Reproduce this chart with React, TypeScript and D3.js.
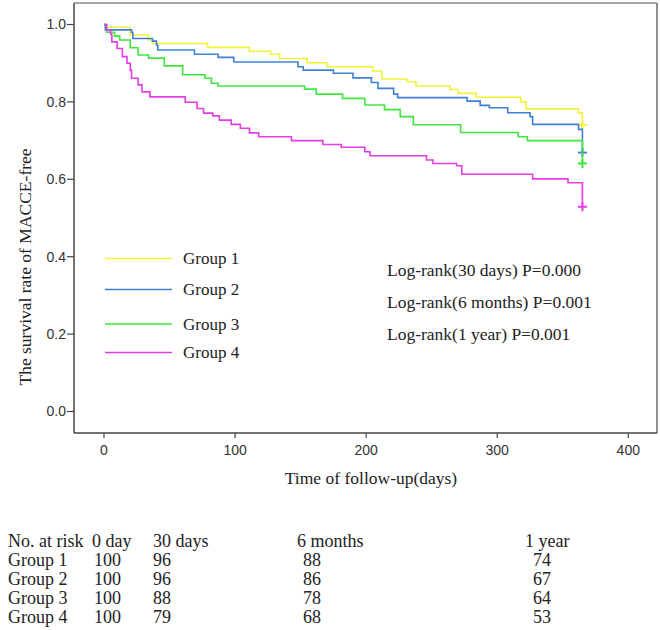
import React from "react";
import * as d3 from "d3";

const groupNames = ["Group 1", "Group 2", "Group 3", "Group 4"];
const groupColors = ["#f2f23a", "#3f80d6", "#3ee63e", "#e63ce6"];

// [time (days), survival]
const group1: [number, number][] = [
  [0, 1], [1, 0.993], [20, 0.973], [34, 0.96], [37, 0.951], [79, 0.941], [111, 0.931],
  [127, 0.923], [134, 0.912], [155, 0.901], [170, 0.891], [205, 0.88], [212, 0.859],
  [231, 0.852], [238, 0.841], [264, 0.832], [270, 0.822], [284, 0.812], [318, 0.80],
  [322, 0.782], [362, 0.771], [365, 0.74],
];
const group2: [number, number][] = [
  [0, 1], [1, 0.986], [21, 0.98], [22, 0.964], [37, 0.957], [40, 0.947], [41, 0.934],
  [69, 0.923], [87, 0.915], [99, 0.903], [148, 0.891], [152, 0.882], [175, 0.874],
  [190, 0.862], [204, 0.85], [209, 0.835], [221, 0.82], [224, 0.811], [277, 0.802],
  [287, 0.791], [294, 0.785], [308, 0.772], [325, 0.762], [327, 0.742], [362, 0.729],
  [365, 0.669],
];
const group3: [number, number][] = [
  [0, 1], [2, 0.98], [8, 0.97], [12, 0.96], [20, 0.94], [26, 0.921], [34, 0.913],
  [46, 0.893], [60, 0.87], [77, 0.861], [82, 0.848], [87, 0.841], [153, 0.833],
  [162, 0.82], [182, 0.809], [199, 0.792], [214, 0.78], [226, 0.762], [236, 0.741],
  [272, 0.721], [316, 0.71], [323, 0.70], [365, 0.641],
];
const group4: [number, number][] = [
  [0, 1], [2, 0.985], [5, 0.975], [6, 0.955], [10, 0.938], [14, 0.917], [17.5, 0.90],
  [20, 0.882], [21, 0.861], [26, 0.844], [29, 0.826], [35, 0.813], [62, 0.799],
  [71, 0.783], [76, 0.771], [83, 0.764], [88, 0.753], [97, 0.742], [104, 0.732],
  [111, 0.72], [118, 0.71], [143, 0.70], [167, 0.69], [181, 0.683], [199, 0.671],
  [203, 0.661], [246, 0.65], [251, 0.641], [269, 0.635], [273, 0.613], [327, 0.601],
  [354, 0.591], [365, 0.529],
];
const groupData = [group1, group2, group3, group4];

const xTicks = [0, 100, 200, 300, 400];
const yTicks = [0, 0.2, 0.4, 0.6, 0.8, 1.0];

const logRankTexts = [
  "Log-rank(30 days) P=0.000",
  "Log-rank(6 months) P=0.001",
  "Log-rank(1 year) P=0.001",
];

const riskHeaders = ["No. at risk", "0 day", "30 days", "6 months", "1 year"];
const riskGroup1 = [100, 96, 88, 74];
const riskGroup2 = [100, 96, 86, 67];
const riskGroup3 = [100, 88, 78, 64];
const riskGroup4 = [100, 79, 68, 53];
const riskRows = [riskGroup1, riskGroup2, riskGroup3, riskGroup4];

const W = 660;
const H = 630;
const frame = { left: 74, right: 657, top: 3, bottom: 433 };

export default function App() {
  const x = d3.scaleLinear().domain([0, 400]).range([104, 628.3]);
  const y = d3.scaleLinear().domain([0, 1]).range([411.5, 24.5]);
  const line = d3
    .line<[number, number]>()
    .x((d) => x(d[0]))
    .y((d) => y(d[1]))
    .curve(d3.curveStepAfter);

  const serif = "'Liberation Serif', 'Times New Roman', serif";
  const tickFont = "'Liberation Sans Narrow', 'Liberation Sans', Arial, sans-serif";

  const legendY = [258.5, 289.5, 324, 352.5];
  const logY = [276, 307.5, 339.5];
  const colX = [8, 92, 153, 297, 525];
  const valX = [94, 153, 303, 533];
  const rowY = [547, 566, 585, 604, 623];

  return (
    <div style={{ position: "absolute", left: 0, top: 0 }}>
      <svg width={W} height={H} style={{ display: "block", background: "#fff" }}>
        {/* frame */}
        <line x1={frame.left} x2={frame.right} y1={frame.top} y2={frame.top} stroke="#8a8a8a" strokeWidth={1.5} />
        <line x1={frame.right} x2={frame.right} y1={frame.top} y2={frame.bottom} stroke="#6a6a6a" strokeWidth={1.5} />
        <line x1={frame.left} x2={frame.left} y1={frame.top} y2={frame.bottom} stroke="#444" strokeWidth={1.5} />
        <line x1={frame.left} x2={frame.right} y1={frame.bottom} y2={frame.bottom} stroke="#444" strokeWidth={1.5} />

        {/* y ticks */}
        {yTicks.map((t) => (
          <g key={"y" + t}>
            <line x1={frame.left - 7} x2={frame.left} y1={y(t)} y2={y(t)} stroke="#444" strokeWidth={1.2} />
            <text x={frame.left - 8} y={y(t)} dy="0.35em" textAnchor="end" fontFamily={tickFont} fontSize={14} fill="#333">
              {t.toFixed(1)}
            </text>
          </g>
        ))}
        {/* x ticks */}
        {xTicks.map((t) => (
          <g key={"x" + t}>
            <line x1={x(t)} x2={x(t)} y1={frame.bottom} y2={frame.bottom + 5} stroke="#444" strokeWidth={1.2} />
            <text x={x(t)} y={455} textAnchor="middle" fontFamily={tickFont} fontSize={14} fill="#333">
              {t}
            </text>
          </g>
        ))}

        {/* axis titles */}
        <text
          transform={`translate(31,267) rotate(-90)`}
          textAnchor="middle"
          fontFamily={serif}
          fontSize={17.5}
          fill="#222"
        >
          The survival rate of MACCE-free
        </text>
        <text x={371} y={484} textAnchor="middle" fontFamily={serif} fontSize={17.5} fill="#222">
          Time of follow-up(days)
        </text>

        {/* curves */}
        {groupData.map((g, i) => {
          const last = g[g.length - 1];
          const cx = x(last[0]);
          const cy = y(last[1]);
          return (
            <g key={"c" + i}>
              <path d={line(g) || ""} fill="none" stroke={groupColors[i]} strokeWidth={1.6} />
              <line x1={cx - 4.5} x2={cx + 4.5} y1={cy} y2={cy} stroke={groupColors[i]} strokeWidth={2} />
              <line x1={cx} x2={cx} y1={cy - 4.5} y2={cy + 4.5} stroke={groupColors[i]} strokeWidth={2} />
            </g>
          );
        })}

        {/* legend */}
        {groupNames.map((n, i) => (
          <g key={"l" + i}>
            <line x1={105} x2={172} y1={legendY[i]} y2={legendY[i]} stroke={groupColors[i]} strokeWidth={1.6} />
            <text x={183} y={legendY[i]} dy="0.33em" fontFamily={serif} fontSize={17} fill="#222">
              {n}
            </text>
          </g>
        ))}

        {/* log-rank texts */}
        {logRankTexts.map((t, i) => (
          <text key={"lr" + i} x={387} y={logY[i]} fontFamily={serif} fontSize={17.5} fill="#222">
            {t}
          </text>
        ))}

        {/* number at risk table */}
        {riskHeaders.map((h, i) => (
          <text key={"h" + i} x={colX[i]} y={rowY[0]} fontFamily={serif} fontSize={18} fill="#222">
            {h}
          </text>
        ))}
        {riskRows.map((row, r) => (
          <g key={"r" + r}>
            <text x={colX[0]} y={rowY[r + 1]} fontFamily={serif} fontSize={18} fill="#222">
              {groupNames[r]}
            </text>
            {row.map((v, c) => (
              <text key={c} x={valX[c]} y={rowY[r + 1]} fontFamily={serif} fontSize={18} fill="#222">
                {v}
              </text>
            ))}
          </g>
        ))}
      </svg>
    </div>
  );
}
